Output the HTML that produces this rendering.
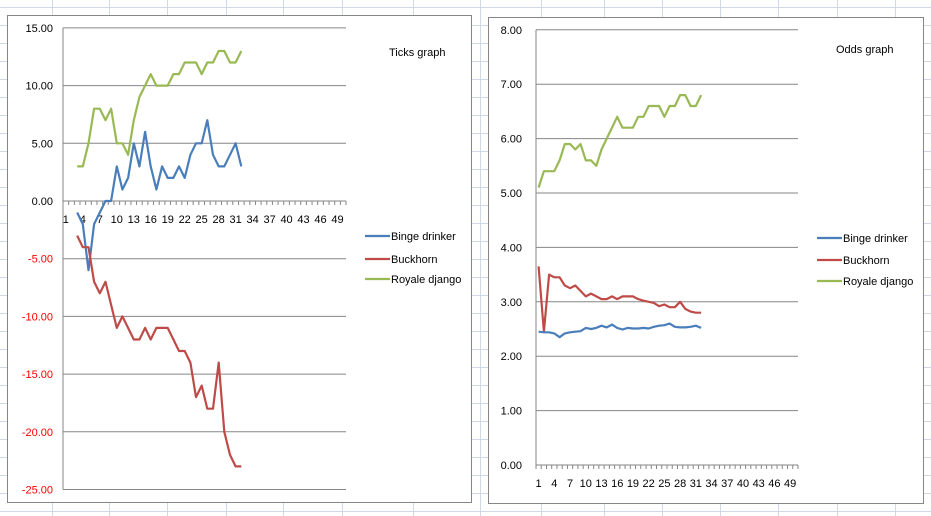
<!DOCTYPE html>
<html><head><meta charset="utf-8"><style>
html,body{margin:0;padding:0;background:#fff;width:931px;height:516px;overflow:hidden}
svg{display:block;font-family:"Liberation Sans",sans-serif}
</style></head><body>
<svg id="s" width="931" height="516" xmlns="http://www.w3.org/2000/svg"></svg>
<script>
const s=document.getElementById('s');let h='';
[52,109,167,226,283,342,413,480,541,604,662,720,778,837,895].forEach(x=>h+=`<line x1="${x+.5}" y1="0" x2="${x+.5}" y2="516" stroke="#d0d7e5"/>`);
for(let y=7;y<516;y+=18)h+=`<line x1="0" y1="${y+.5}" x2="931" y2="${y+.5}" stroke="#d0d7e5"/>`;
h+=`<rect x="7.5" y="15.5" width="464" height="487" fill="#fff" stroke="#868686"/>`;
h+=`<rect x="488.5" y="17.5" width="435" height="486" fill="#fff" stroke="#868686"/>`;
function chart(o){
  const {x0,x1,yAt,ticks,axisY,labY,labX,series,fmtColor}=o;
  const cw=(x1-x0)/50;
  ticks.forEach(v=>{const y=yAt(v);h+=`<line x1="${x0}" y1="${y}" x2="${x1}" y2="${y}" stroke="#868686"/>`;
    h+=`<text x="${labX}" y="${y+4}" font-size="11" text-anchor="end" fill="${fmtColor(v)}">${v.toFixed(2)}</text>`;});
  h+=`<line x1="${x0}" y1="${yAt(ticks[0])}" x2="${x0}" y2="${yAt(ticks[ticks.length-1])}" stroke="#868686"/>`;
  h+=`<line x1="${x0}" y1="${axisY}" x2="${x1}" y2="${axisY}" stroke="#868686"/>`;
  for(let i=0;i<=50;i++){const x=x0+i*cw;h+=`<line x1="${x}" y1="${axisY}" x2="${x}" y2="${axisY+4}" stroke="#868686"/>`;}
  for(let c=1;c<=49;c+=3){h+=`<text x="${x0+(c-0.5)*cw}" y="${labY}" font-size="11" text-anchor="middle" fill="#000">${c}</text>`;}
  series.forEach(([col,st,d])=>{const p=d.map((v,i)=>`${(x0+(st+i-0.5)*cw).toFixed(1)},${yAt(v).toFixed(1)}`).join(' ');
    h+=`<polyline points="${p}" fill="none" stroke="${col}" stroke-width="2.2" stroke-linejoin="round"/>`;});
}
const B='#4a7ebb',R='#be4b48',G='#98b954';
chart({x0:63,x1:346,yAt:v=>201-v*11.54,ticks:[15,10,5,0,-5,-10,-15,-20,-25],axisY:201,labY:223,labX:53,
fmtColor:v=>v<0?'#ff0000':'#000',series:[
[G,3,[3,3,5,8,8,7,8,5,5,4,7,9,10,11,10,10,10,11,11,12,12,12,11,12,12,13,13,12,12,13]],
[B,3,[-1,-2,-6,-2,-1,0,0,3,1,2,5,3,6,3,1,3,2,2,3,2,4,5,5,7,4,3,3,4,5,3]],
[R,3,[-3,-4,-4,-7,-8,-7,-9,-11,-10,-11,-12,-12,-11,-12,-11,-11,-11,-12,-13,-13,-14,-17,-16,-18,-18,-14,-20,-22,-23,-23]]]});
chart({x0:536,x1:798,yAt:v=>465-v*54.4,ticks:[8,7,6,5,4,3,2,1,0],axisY:465,labY:487,labX:522,
fmtColor:v=>'#000',series:[
[G,1,[5.1,5.4,5.4,5.4,5.6,5.9,5.9,5.8,5.9,5.6,5.6,5.5,5.8,6.0,6.2,6.4,6.2,6.2,6.2,6.4,6.4,6.6,6.6,6.6,6.4,6.6,6.6,6.8,6.8,6.6,6.6,6.8]],
[R,1,[3.65,2.45,3.5,3.45,3.45,3.3,3.25,3.3,3.2,3.1,3.15,3.1,3.05,3.05,3.1,3.05,3.1,3.1,3.1,3.05,3.02,3.0,2.98,2.92,2.95,2.9,2.9,3.0,2.87,2.82,2.8,2.8]],
[B,1,[2.45,2.44,2.44,2.42,2.35,2.42,2.44,2.45,2.46,2.52,2.5,2.52,2.56,2.53,2.58,2.52,2.49,2.52,2.51,2.51,2.52,2.51,2.54,2.56,2.57,2.6,2.54,2.53,2.53,2.54,2.56,2.52]]]});
h+=`<text x="389" y="56" font-size="11">Ticks graph</text>`;
h+=`<text x="836" y="53" font-size="11">Odds graph</text>`;
function leg(x,ys){[[B,'Binge drinker'],[R,'Buckhorn'],[G,'Royale django']].forEach(([c,t],i)=>{
  h+=`<line x1="${x}" y1="${ys[i]}" x2="${x+25}" y2="${ys[i]}" stroke="${c}" stroke-width="2.2"/>`;
  h+=`<text x="${x+26}" y="${ys[i]+4}" font-size="11">${t}</text>`;});}
leg(365,[236,259,279]);
leg(817,[238,260,281]);
s.innerHTML=h;
</script>
</body></html>
